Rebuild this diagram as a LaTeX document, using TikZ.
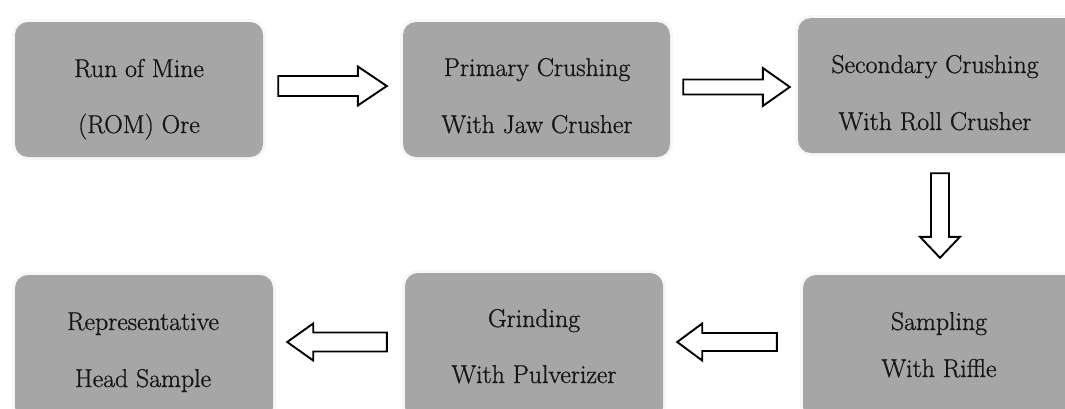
\documentclass[tikz,border=0pt]{standalone}
\usepackage{fontspec}
\newfontfamily\boxfont{Latin Modern Roman}[FakeBold=0.9]
\usetikzlibrary{calc}
\definecolor{boxgray}{HTML}{A6A6A6}
\definecolor{txtcol}{HTML}{151515}
\tikzset{
  box/.style={rectangle, rounded corners=13pt, fill=boxgray, inner sep=0pt,
    preaction={draw=black!3, line width=6pt}},
  lbl/.style={anchor=base, text=txtcol, inner sep=0pt, font=\boxfont\fontsize{25.8}{30}\selectfont},
  blockarr/.style={draw=black, fill=white, line width=1.9pt, line join=miter},
}
% horizontal block arrow: start, end, shaft half-width, head half-width, head length
\newcommand\harrow[5]{%
  \draw[blockarr] let \p1=(#1), \p2=(#2), \n1={ifthenelse(\x2>\x1,1,-1)} in
    (\x1,\y1+#3pt) -- ({\x2-\n1*#5pt},\y1+#3pt) -- ({\x2-\n1*#5pt},\y1+#4pt)
    -- (\x2,\y1) -- ({\x2-\n1*#5pt},\y1-#4pt) -- ({\x2-\n1*#5pt},\y1-#3pt)
    -- (\x1,\y1-#3pt) -- cycle;}
% downward block arrow
\newcommand\varrow[5]{%
  \draw[blockarr] let \p1=(#1), \p2=(#2) in
    (\x1-#3pt,\y1) -- (\x1-#3pt,\y2+#5pt) -- (\x1-#4pt,\y2+#5pt)
    -- (\x1,\y2) -- (\x1+#4pt,\y2+#5pt) -- (\x1+#3pt,\y2+#5pt)
    -- (\x1+#3pt,\y1) -- cycle;}
\begin{document}
\begin{tikzpicture}[x=1pt,y=-1pt]
\useasboundingbox (0,0) rectangle (1065,408);
\fill[white] (0,0) rectangle (1065,408);
\clip (0,0) rectangle (1065,408);

% boxes
\node[box, minimum width=248pt, minimum height=135pt] (b1) at (139,89.5) {};
\node[box, minimum width=267pt, minimum height=135pt] (b2) at (536.5,89.5) {};
\node[box, minimum width=282pt, minimum height=135pt] (b3) at (939,85.5) {};
\node[box, minimum width=277pt, minimum height=145pt] (b4) at (941.5,347.5) {};
\node[box, minimum width=258pt, minimum height=147pt] (b5) at (534,346.5) {};
\node[box, minimum width=258pt, minimum height=145pt] (b6) at (144,347.5) {};

% labels
\node[lbl] (t1a) at (139,77) {Run of Mine};
\node[lbl] (t1b) at (139,133) {(ROM) Ore};
\node[lbl] (t2a) at (537,76) {Primary Crushing};
\node[lbl] (t2b) at (537,133) {With Jaw Crusher};
\node[lbl] (t3a) at (935,73) {Secondary Crushing};
\node[lbl] (t3b) at (935,130) {With Roll Crusher};
\node[lbl] (t4a) at (939,330) {Sampling};
\node[lbl] (t4b) at (939,377) {With Riffle};
\node[lbl] (t5a) at (534,327) {Grinding};
\node[lbl] (t5b) at (534,383) {With Pulverizer};
\node[lbl] (t6a) at (143,330) {Representative};
\node[lbl] (t6b) at (143,387) {Head Sample};

% arrow end points
\coordinate (a1s) at ($(b1.east)+(15,-3.5)$);
\coordinate (a1e) at ($(b2.west)+(-16,-3.5)$);
\coordinate (a2s) at ($(b2.east)+(13,-2.5)$);
\coordinate (a2e) at ($(b3.west)+(-8,1.5)$);
\coordinate (a3s) at ($(b3.south)+(1,20)$);
\coordinate (a3e) at ($(b4.north)+(-1.5,-17)$);
\coordinate (a4s) at ($(b4.west)+(-26,-5.5)$);
\coordinate (a4e) at ($(b5.east)+(14,-4.5)$);
\coordinate (a5s) at ($(b5.west)+(-18,-4.5)$);
\coordinate (a5e) at ($(b6.east)+(14,-4.5)$);

% block arrows
\harrow{a1s}{a1e}{10}{19.5}{29}
\harrow{a2s}{a2e}{7.5}{19}{27}
\varrow{a3s}{a3e}{9}{20}{21}
\harrow{a4s}{a4e}{9}{18.5}{25}
\harrow{a5s}{a5e}{9.5}{18.5}{26}
\end{tikzpicture}
\end{document}
